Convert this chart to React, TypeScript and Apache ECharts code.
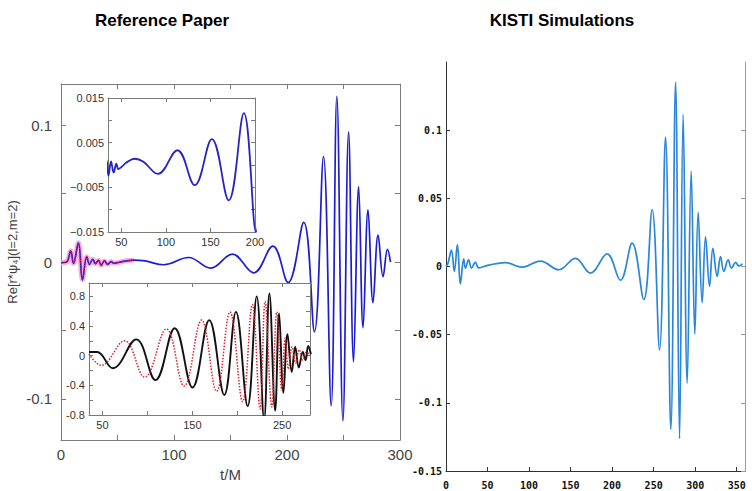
import React, { useEffect, useRef } from 'react';
import * as echarts from 'echarts';

// Reference paper: main waveform Re[r*psi4] (l=2, m=2)
const MAIN_T = [0, 5, 8.6, 11, 15.4, 19, 22.8, 25.2, 28.1, 30.5, 33.2, 35.5, 38.4, 41.3, 44.4, 46.6, 51.5, 55.3, 64.9, 74.3, 91, 112.9, 132.4, 151.6, 170.5, 187.5, 201, 214.8, 224.3, 232.3, 239.1, 244.1, 249.5, 254.5, 258.9, 263.4, 267.3, 271.7, 276.1, 280.6, 285, 288.9, 291.6];
const MAIN_V = [-0.0005, 0, 0.0082, -0.001, 0.014, -0.013, 0.0039, -0.0017, 0.002, -0.0012, 0.0012, -0.0024, 0.0008, -0.0017, 0.0003, -0.0009, -0.0002, 0.0005, 0.0014, 0.0008, -0.002, 0.0033, -0.0045, 0.0058, -0.0079, 0.0116, -0.015, 0.029, -0.051, 0.077, -0.105, 0.121, -0.116, 0.095, -0.073, 0.055, -0.048, 0.038, -0.0296, 0.0196, -0.0107, 0.0092, 0];
const EARLY_END = 64.9;

// Lower inset: two waveforms
const BLACK_T = [35, 44, 61.5, 87.6, 109, 130.4, 150.2, 168.8, 185.6, 198.6, 211.6, 221.7, 229.9, 235.8, 242.2, 246.6, 251.4, 255.9, 260.7, 264.5, 268.5, 273, 276, 279, 282];
const BLACK_V = [0.05, 0.05, -0.17, 0.22, -0.33, 0.37, -0.43, 0.48, -0.53, 0.59, -0.68, 0.8, -0.86, 0.84, -0.74, 0.57, -0.5, 0.29, -0.22, 0.12, -0.16, 0.05, -0.06, 0.13, 0.02];
const RED_T = [35, 48.5, 74.6, 96.9, 121.2, 140.9, 160.3, 177, 191.9, 206, 216.8, 225.4, 231, 238.4, 244, 249.6, 253.4, 257, 261, 265, 269, 273, 277, 281];
const RED_V = [0.02, -0.13, 0.2, -0.29, 0.36, -0.41, 0.48, -0.48, 0.59, -0.62, 0.69, -0.72, 0.73, -0.69, 0.59, -0.46, 0.24, -0.18, 0.12, -0.1, 0.08, -0.06, 0.05, 0];

// KISTI simulation waveform
const KISTI_T = [0, 2.4, 6.5, 10, 13.7, 17.3, 21.3, 23.3, 27.3, 30.6, 35.4, 39.4, 51.4, 71.5, 91.6, 113.7, 135.8, 155.8, 173.9, 194, 210, 224.1, 238.2, 248.2, 257.1, 264.3, 270.7, 276.4, 281.2, 285.5, 290.4, 295.2, 299.6, 303.6, 308.4, 312.5, 317.3, 321.3, 326.5, 330.5, 334.5, 339.7, 343.7, 348.6, 352.6, 357];
const KISTI_V = [0, 0.0024, 0.012, -0.0036, 0.016, -0.0128, 0.0056, -0.0012, 0.0048, -0.0012, 0.003, -0.001, 0.001, 0.0028, -0.0005, 0.004, -0.0024, 0.006, -0.0048, 0.0092, -0.0101, 0.0171, -0.0242, 0.0418, -0.0611, 0.0949, -0.1196, 0.1353, -0.1263, 0.1116, -0.0857, 0.07, -0.0495, 0.0399, -0.0266, 0.0217, -0.0145, 0.0133, -0.0072, 0.0072, -0.0036, 0.0048, -0.0012, 0.003, 0.0005, 0.002];

// Tick labels
const MAIN_X_LABELS = [0, 100, 200, 300];
const MAIN_X_TICKS = [0, 50, 100, 150, 200, 250, 300];
const MAIN_Y_LABELS = [-0.1, 0, 0.1];
const MAIN_Y_TICKS = [-0.1, -0.05, 0, 0.05, 0.1];
const IN1_X_LABELS = [50, 100, 150, 200];
const IN1_Y_LABELS = [-0.015, -0.005, 0.005, 0.015];
const IN1_Y_TICKS = [-0.015, -0.01, -0.005, 0, 0.005, 0.01, 0.015];
const IN2_X_LABELS = [50, 150, 250];
const IN2_X_TICKS = [50, 100, 150, 200, 250];
const IN2_Y_LABELS = [-0.8, -0.4, 0, 0.4, 0.8];
const IN2_Y_TICKS = [-0.8, -0.6, -0.4, -0.2, 0, 0.2, 0.4, 0.6, 0.8];
const KISTI_X_LABELS = [0, 50, 100, 150, 200, 250, 300, 350];
const KISTI_Y_LABELS = [-0.15, -0.1, -0.05, 0, 0.05, 0.1];

const pairs = (t: number[], v: number[]) => t.map((x, i) => [x, v[i]]);

const GRAY = '#7a7a7a';
const fmtPlain = (v: number) => String(parseFloat(Number(v).toFixed(4)));
const fmtMinus = (v: number) => {
  const s = fmtPlain(v);
  return s.startsWith('-') ? '\u2212' + s.slice(1) : s;
};

function axis(o: any) {
  return {
    type: 'value',
    gridIndex: o.grid,
    min: o.min,
    max: o.max,
    position: o.position,
    z: o.z ?? 0,
    axisLine: { show: true, onZero: false, lineStyle: { color: o.lineColor ?? GRAY, width: 1 } },
    axisTick: {
      show: true,
      inside: true,
      length: o.tickLen ?? 4,
      customValues: o.ticks,
      lineStyle: { color: o.lineColor ?? GRAY, width: 1 },
    },
    axisLabel: o.labels
      ? {
          show: true,
          customValues: o.labels,
          formatter: o.fmt ?? fmtPlain,
          fontSize: o.fontSize ?? 11,
          margin: o.margin ?? 4,
          color: o.labelColor ?? '#333',
          fontFamily: o.fontFamily ?? 'Liberation Sans',
          fontWeight: o.fontWeight ?? 'normal',
        }
      : { show: false },
    splitLine: { show: false },
    name: o.name,
    nameLocation: 'middle',
    nameGap: o.nameGap,
    nameTextStyle: o.name ? { fontSize: 15, color: '#444', fontFamily: 'Liberation Sans' } : undefined,
  };
}

export default function App() {
  const ref = useRef<HTMLDivElement>(null);

  useEffect(() => {
    document.body.style.margin = '0';
    if (!ref.current) return;
    const chart = echarts.init(ref.current, undefined, { renderer: 'svg' });

    const mainData = pairs(MAIN_T, MAIN_V);
    const earlyData = mainData.filter((p) => p[0] <= EARLY_END);

    const option: any = {
      animation: false,
      backgroundColor: '#fff',
      grid: [
        { left: 61, top: 84, width: 339, height: 356, show: false },
        { left: 108, top: 98, width: 147, height: 134, show: true, backgroundColor: '#fff', borderWidth: 0, z: 10 },
        { left: 89, top: 283, width: 221, height: 132, show: true, backgroundColor: '#fff', borderWidth: 0, z: 10 },
        { left: 446, top: 62, width: 299, height: 409, show: false },
      ],
      xAxis: [
        axis({ grid: 0, min: 0, max: 300, position: 'bottom', ticks: MAIN_X_TICKS, labels: MAIN_X_LABELS, fontSize: 15, margin: 7, labelColor: '#444', tickLen: 5, name: 't/M', nameGap: 27 }),
        axis({ grid: 0, min: 0, max: 300, position: 'top', ticks: MAIN_X_TICKS, tickLen: 5 }),
        axis({ grid: 1, min: 35, max: 200, position: 'bottom', ticks: IN1_X_LABELS, labels: IN1_X_LABELS, margin: 4, z: 11 }),
        axis({ grid: 1, min: 35, max: 200, position: 'top', ticks: IN1_X_LABELS, z: 11 }),
        axis({ grid: 2, min: 35, max: 281, position: 'bottom', ticks: IN2_X_TICKS, labels: IN2_X_LABELS, margin: 4, z: 11 }),
        axis({ grid: 2, min: 35, max: 281, position: 'top', ticks: IN2_X_TICKS, z: 11 }),
        axis({ grid: 3, min: 0, max: 360, position: 'bottom', ticks: KISTI_X_LABELS, labels: KISTI_X_LABELS, fontSize: 10, margin: 9, labelColor: '#111', fontFamily: 'DejaVu Sans Mono', fontWeight: 'bold', lineColor: '#333' }),
      ],
      yAxis: [
        axis({ grid: 0, min: -0.13, max: 0.13, position: 'left', ticks: MAIN_Y_TICKS, labels: MAIN_Y_LABELS, fontSize: 15, margin: 9, labelColor: '#444', tickLen: 5 }),
        axis({ grid: 0, min: -0.13, max: 0.13, position: 'right', ticks: MAIN_Y_TICKS, tickLen: 5 }),
        axis({ grid: 1, min: -0.015, max: 0.015, position: 'left', ticks: IN1_Y_TICKS, labels: IN1_Y_LABELS, fmt: fmtMinus, margin: 4, z: 11 }),
        axis({ grid: 1, min: -0.015, max: 0.015, position: 'right', ticks: IN1_Y_TICKS, z: 11 }),
        axis({ grid: 2, min: -0.8, max: 0.98, position: 'left', ticks: IN2_Y_TICKS, labels: IN2_Y_LABELS, margin: 4, z: 11 }),
        axis({ grid: 2, min: -0.8, max: 0.98, position: 'right', ticks: IN2_Y_TICKS, z: 11 }),
        axis({ grid: 3, min: -0.15, max: 0.15, position: 'left', ticks: KISTI_Y_LABELS, labels: KISTI_Y_LABELS, fontSize: 10, margin: 4, labelColor: '#111', fontFamily: 'DejaVu Sans Mono', fontWeight: 'bold', lineColor: '#333' }),
        axis({ grid: 3, min: -0.15, max: 0.15, position: 'right', ticks: KISTI_Y_LABELS, lineColor: '#999' }),
      ],
      series: [
        {
          type: 'line', xAxisIndex: 0, yAxisIndex: 0, data: earlyData, smooth: 0.4, showSymbol: false,
          lineStyle: { color: '#f5a3cf', width: 5, opacity: 0.85 }, z: 2,
        },
        {
          type: 'line', xAxisIndex: 0, yAxisIndex: 0, data: mainData, smooth: 0.4, showSymbol: false,
          lineStyle: { color: '#1c1cd6', width: 1.7 }, z: 3,
        },
        {
          type: 'line', xAxisIndex: 0, yAxisIndex: 0, data: earlyData, smooth: 0.4, showSymbol: false,
          lineStyle: { color: '#d81b60', width: 1.2, type: 'dotted' }, z: 4,
        },
        {
          type: 'line', xAxisIndex: 2, yAxisIndex: 2, data: mainData, smooth: 0.4, showSymbol: false,
          lineStyle: { color: '#2424c8', width: 1.8 }, z: 12,
        },
        {
          type: 'line', xAxisIndex: 4, yAxisIndex: 4, data: pairs(BLACK_T, BLACK_V), smooth: 0.4, showSymbol: false,
          lineStyle: { color: '#111', width: 1.9 }, z: 12,
        },
        {
          type: 'line', xAxisIndex: 4, yAxisIndex: 4, data: pairs(RED_T, RED_V), smooth: 0.4, showSymbol: false,
          lineStyle: { color: '#e0202a', width: 1.5, type: 'dotted' }, z: 13,
        },
        {
          type: 'line', xAxisIndex: 6, yAxisIndex: 6, data: pairs(KISTI_T, KISTI_V), smooth: 0.4, showSymbol: false,
          lineStyle: { color: '#2a86d8', width: 1.7 }, z: 3,
        },
      ],
      graphic: [
        {
          type: 'text', x: 162, y: 20, z: 20,
          style: { text: 'Reference Paper', align: 'center', verticalAlign: 'middle', fontSize: 17, fontWeight: 'bold', fontFamily: 'Liberation Sans', fill: '#000' },
        },
        {
          type: 'text', x: 562, y: 20, z: 20,
          style: { text: 'KISTI Simulations', align: 'center', verticalAlign: 'middle', fontSize: 17, fontWeight: 'bold', fontFamily: 'Liberation Sans', fill: '#000' },
        },
        {
          type: 'text', x: 12, y: 252, rotation: Math.PI / 2, z: 20,
          style: { text: 'Re[r*\u03c8\u2084](l=2,m=2)', align: 'center', verticalAlign: 'middle', fontSize: 13, fontFamily: 'Liberation Sans', fill: '#444' },
        },
      ],
    };

    chart.setOption(option);
    return () => chart.dispose();
  }, []);

  return <div ref={ref} style={{ width: 752, height: 491 }} />;
}
